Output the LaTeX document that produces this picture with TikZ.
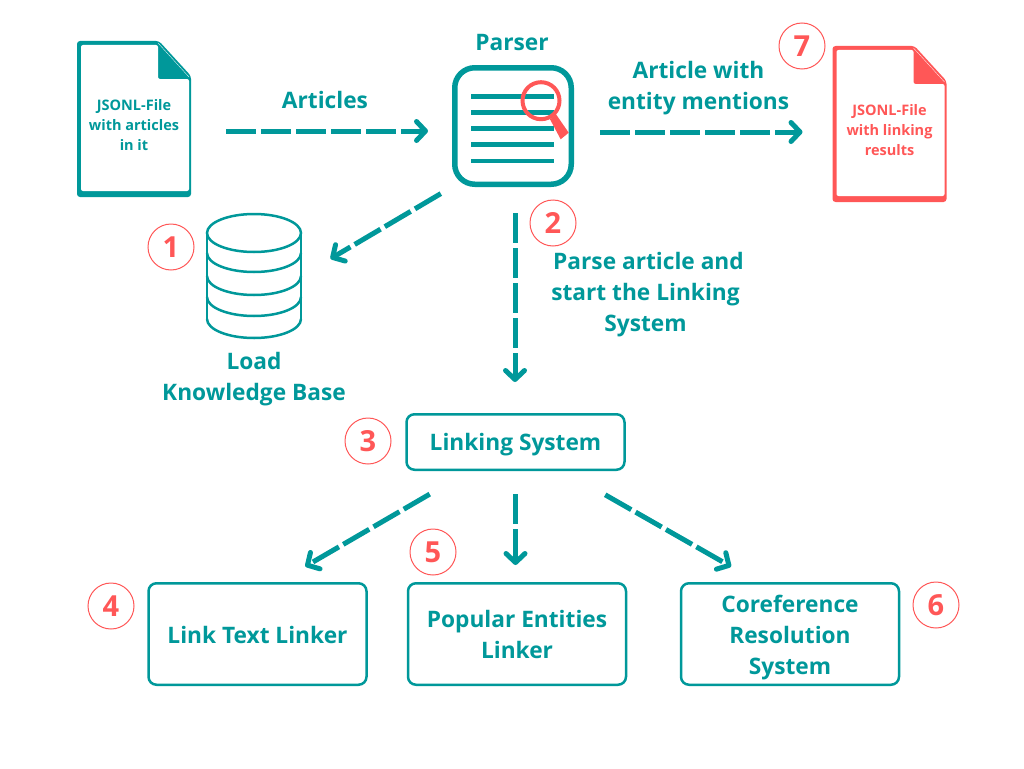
\documentclass[tikz,border=0pt]{standalone}
\usepackage{xcolor}
\usepackage{fontspec}
\setmainfont{Open Sans}
\usetikzlibrary{arrows.meta,positioning}
\definecolor{tealc}{HTML}{00989A}
\definecolor{redc}{HTML}{FF5757}

\begin{document}
\begin{tikzpicture}[
    x=1pt, y=-1pt,
    flow/.style={draw=tealc, line width=5pt, dash pattern=on 30pt off 5pt, -{Straight Barb[length=9pt,width=19pt,round]}},
    box/.style={rectangle, draw=tealc, line width=2.5pt, rounded corners=8pt, minimum width=218pt, align=center, text=tealc, font=\bfseries\fontsize{22.7}{31}\selectfont},
    label/.style={align=center, text=tealc, inner sep=0pt, font=\bfseries\fontsize{22.7}{31}\selectfont},
    filetext/.style={align=center, inner sep=0pt, outer sep=0pt, minimum width=114pt, font=\bfseries\fontsize{14.5}{20}\selectfont},
    badge/.style={circle, draw=redc, line width=1pt, minimum size=46pt, inner sep=0pt, text=redc, font=\bfseries\fontsize{29}{29}\selectfont},
    pics/filedoc/.style={code={
        \fill[#1, rounded corners=3pt] (-57,-78) -- (25,-78) -- (57,-43) -- (57,78) -- (-57,78) -- cycle;
        \fill[white, rounded corners=2pt] (-53,-74) -- (24,-74) -- (24,-40) -- (55,-40) -- (55,72) -- (-53,72) -- cycle;
        \draw[white, line width=0.3pt] (24,-76) -- (55,-42);
    }}
]
\useasboundingbox (0,0) rectangle (1024,768);

% Input and output files
\pic at (134,119) {filedoc=tealc};
\node[filetext, text=tealc] (infile) at (134,125) {JSONL-File\\with articles\\in it};
\pic at (889.5,124) {filedoc=redc};
\node[filetext, text=redc] (outfile) at (889.5,130) {JSONL-File\\with linking\\results};

% Parser icon
\node[rectangle, draw=tealc, line width=5.5pt, rounded corners=20pt, minimum size=116.5pt, outer sep=2.75pt] (parser) at (513,126) {};
\foreach \y in {96.5,112.5,128.5,144.5,161} {
    \draw[tealc, line width=4.5pt] (471,\y) -- (554,\y);
}
\draw[redc, line width=4pt] (541,100.7) circle (18.5pt);
\fill[redc] (550,119.3) -- (556,114.3) -- (568.7,132.7) -- (560.7,139.3) -- cycle;
\draw[white, line width=0.8pt] (530,88.5) arc (115:80:13pt);
\node[label] (parsertitle) at (512,43) {Parser};

% Knowledge base icon
\node[minimum width=94pt, minimum height=124pt, inner sep=0pt] (kb) at (254,276) {};
\draw[tealc, line width=2.5pt] (254,233) ellipse (47pt and 19pt);
\foreach \y in {253,276,297,319} {
    \draw[tealc, line width=2.5pt] (207,\y) arc (180:360:47pt and 19pt);
}
\draw[tealc, line width=2.5pt] (207,233) -- (207,319) (301,233) -- (301,319);
\node[label] (kbtext) at (254,376.5) {\rule{0pt}{23pt}Load\\Knowledge Base};

% Linking system and its parts
\node[box, minimum height=55.5pt] (linking) at (515.5,442) {\rule{0pt}{23pt}Linking System};
\node[box, minimum height=101.5pt] (linktext) at (257.5,634) {\rule{0pt}{19pt}Link Text Linker};
\node[box, minimum height=101.5pt] (popular) at (517,634) {\rule{0pt}{19pt}Popular Entities\\Linker};
\node[box, minimum height=101.5pt] (coref) at (790,634) {\rule{0pt}{25pt}Coreference\\Resolution\\System};

% Labels
\node[label] (articles) at (325,100) {Articles};
\node[label] (mentions) at (698.5,85.5) {\rule{0pt}{23pt}Article with\\entity mentions};
\node[label] (parsetext) at (645.5,292) {\rule{0pt}{23pt}\hspace*{6pt}Parse article and\\start the Linking\\System};

% Numbers
\node[badge] (n1) at (171,247) {1};
\node[badge] (n2) at (553,223) {2};
\node[badge] (n3) at (368,441) {3};
\node[badge] (n4) at (111,606) {4};
\node[badge] (n5) at (433,552) {5};
\node[badge] (n6) at (936,605) {6};
\node[badge] (n7) at (802,46) {7};

% Arrows
\draw[flow, shorten <=35pt, shorten >=24pt] ([yshift=-6pt]infile.east) -- ([yshift=-5pt]parser.west);
\draw[flow, shorten <=26pt, shorten >=30pt] ([yshift=-6pt]parser.east) -- ([yshift=-2pt]outfile.west);
\draw[flow, shorten <=13pt, shorten >=34pt] (parser.south west) -- (kb.east);
\draw[flow, shorten <=26pt, shorten >=31pt] ([xshift=2pt]parser.south) -- ([xshift=-0.5pt]linking.north);
\draw[flow, shorten <=46pt, shorten >=31pt] ([xshift=-46pt]linking.south) -- ([xshift=21pt]linktext.north);
\draw[flow, shorten <=23pt, shorten >=17pt] (linking.south) -- ([xshift=-1.5pt]popular.north);
\draw[flow, shorten <=48pt, shorten >=31pt] ([xshift=48pt]linking.south) -- ([xshift=-32pt]coref.north);

\end{tikzpicture}
\end{document}
